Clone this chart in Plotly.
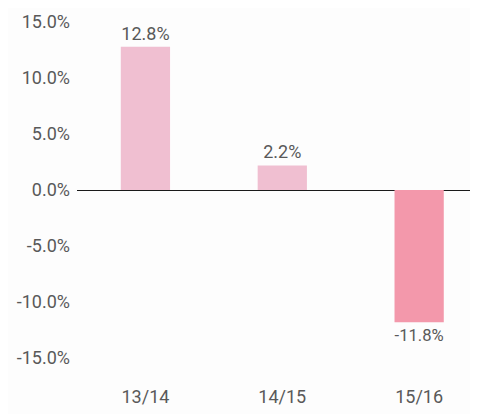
import plotly.graph_objects as go

years = ["13/14", "14/15", "15/16"]
growth = [12.8, 2.2, -11.8]
bar_colors = ["#F0BFD1", "#F0BFD1", "#F398AB"]
tick_vals = [15, 10, 5, 0, -5, -10, -15]
tick_text = ["15.0%", "10.0%", "5.0%", "0.0%", "-5.0%", "-10.0%", "-15.0%"]

fig = go.Figure(
    go.Bar(
        x=list(range(len(years))),
        y=growth,
        width=0.36,
        marker=dict(color=bar_colors, line=dict(width=0)),
        text=[f"{v:.1f}%" for v in growth],
        textposition="outside",
        textfont=dict(size=18, color="#595959"),
        cliponaxis=False,
        showlegend=False,
    )
)

# the page body adds an 8px offset, so the figure is a bit smaller than the window
fig.update_layout(
    width=470,
    height=406,
    margin=dict(l=69, r=0, t=0, b=34),
    paper_bgcolor="#FDFDFD",
    plot_bgcolor="#FDFDFD",
    font=dict(family="Roboto", size=18, color="#595959"),
    xaxis=dict(
        range=[-0.5, 2.43],
        tickmode="array",
        tickvals=list(range(len(years))),
        ticktext=years,
        showgrid=False,
        zeroline=False,
        showline=False,
        ticks="",
        ticklabelstandoff=4,
        automargin=False,
    ),
    yaxis=dict(
        range=[-16.96, 16.25],
        tickmode="array",
        tickvals=tick_vals,
        ticktext=tick_text,
        showgrid=False,
        zeroline=True,
        zerolinecolor="#1A1A1A",
        zerolinewidth=1,
        showline=False,
        ticks="",
        ticklabelstandoff=6,
        automargin=False,
    ),
)

fig.write_html("out.html")
